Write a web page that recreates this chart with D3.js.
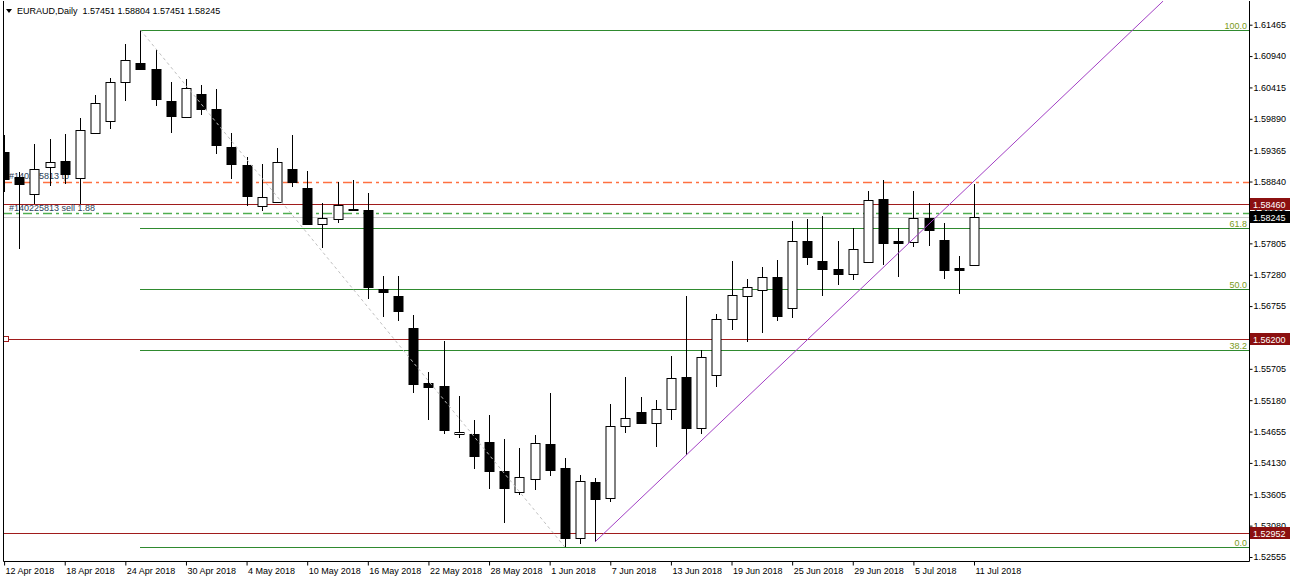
<!DOCTYPE html>
<html>
<head>
<meta charset="utf-8">
<script src="https://cdn.jsdelivr.net/npm/d3@7"></script>
<style>
  body { margin: 0; background: #fff; }
  svg { display: block; font-family: "Liberation Sans", Arial, sans-serif; font-size: 9px; }
</style>
</head>
<body>
<svg id="chart" width="1290" height="580"></svg>
<script>
// daily bars, EURAUD
var dates = [
  "2018-04-12","2018-04-13","2018-04-16","2018-04-17","2018-04-18","2018-04-19","2018-04-20","2018-04-23","2018-04-24","2018-04-25","2018-04-26","2018-04-27","2018-04-30",
  "2018-05-01","2018-05-02","2018-05-03","2018-05-04","2018-05-07","2018-05-08","2018-05-09","2018-05-10","2018-05-11","2018-05-14","2018-05-15","2018-05-16","2018-05-17","2018-05-18","2018-05-21","2018-05-22","2018-05-23","2018-05-24","2018-05-25","2018-05-28","2018-05-29","2018-05-30","2018-05-31",
  "2018-06-01","2018-06-04","2018-06-05","2018-06-06","2018-06-07","2018-06-08","2018-06-11","2018-06-12","2018-06-13","2018-06-14","2018-06-15","2018-06-18","2018-06-19","2018-06-20","2018-06-21","2018-06-22","2018-06-25","2018-06-26","2018-06-27","2018-06-28","2018-06-29",
  "2018-07-02","2018-07-03","2018-07-04","2018-07-05","2018-07-06","2018-07-09","2018-07-10","2018-07-11"
];
var opens = [1.59335,1.58916,1.58637,1.59083,1.59184,1.58899,1.59654,1.59850,1.60504,1.60828,1.60717,1.60190,1.59922,
  1.60303,1.60046,1.59414,1.59124,1.58436,1.58503,1.59056,1.58726,1.58134,1.58211,1.58357,1.58357,1.57044,1.56931,1.56383,1.55460,1.55410,1.54612,1.54612,1.54487,1.53996,1.53649,1.53857,
  1.54444,1.54041,1.52877,1.53806,1.53548,1.54746,1.54986,1.54801,1.55031,1.55573,1.54712,1.55601,1.56540,1.56920,1.57032,1.57238,1.56718,1.57837,1.57518,1.57372,1.57295,
  1.57497,1.58553,1.57837,1.57825,1.58228,1.57854,1.57389,1.57451];
var highs = [1.59615,1.58994,1.59464,1.59548,1.59632,1.59905,1.60286,1.60576,1.61136,1.61376,1.61052,1.60509,1.60554,
  1.60454,1.60387,1.59644,1.59251,1.59140,1.59409,1.59620,1.59011,1.58486,1.58832,1.58872,1.58654,1.57262,1.57262,1.56608,1.55657,1.56165,1.55242,1.54856,1.54935,1.54538,1.54387,1.54595,
  1.55293,1.54219,1.53924,1.53884,1.55115,1.55561,1.55237,1.55182,1.55925,1.56931,1.56026,1.56624,1.57507,1.57200,1.57406,1.57530,1.58178,1.58218,1.58256,1.57837,1.58067,
  1.58681,1.58860,1.58067,1.58681,1.58486,1.58144,1.57585,1.58804];
var lows = [1.58664,1.57715,1.58469,1.58765,1.58805,1.58469,1.59644,1.59716,1.60185,1.60710,1.60101,1.59660,1.59905,
  1.59950,1.59308,1.58889,1.58424,1.58345,1.58491,1.58748,1.58105,1.57731,1.58144,1.58340,1.56876,1.56567,1.56500,1.55293,1.54846,1.54622,1.54555,1.54025,1.53689,1.53129,1.53593,1.53672,
  1.53912,1.52721,1.52767,1.52810,1.53481,1.54638,1.54776,1.54404,1.54846,1.54259,1.54622,1.55405,1.56356,1.56160,1.56311,1.56500,1.56551,1.57446,1.56931,1.57111,1.57195,
  1.57485,1.57446,1.57250,1.57741,1.57758,1.57200,1.56960,1.57451];
var closes = [1.58889,1.58805,1.59056,1.59167,1.58961,1.59699,1.60147,1.60509,1.60873,1.60722,1.60214,1.59945,1.60398,
  1.60056,1.59447,1.59129,1.58592,1.58580,1.59167,1.58832,1.58122,1.58228,1.58446,1.58374,1.57082,1.56987,1.56668,1.55450,1.55393,1.54679,1.54645,1.54248,1.53996,1.53706,1.53900,1.54471,
  1.54008,1.52877,1.53823,1.53526,1.54746,1.54890,1.54796,1.55031,1.55551,1.54712,1.55903,1.56540,1.56943,1.57071,1.57238,1.56584,1.57837,1.57574,1.57379,1.57284,1.57703,
  1.58536,1.57815,1.57815,1.58228,1.58021,1.57362,1.57367,1.58245];

var dateTicks = ["2018-04-12","2018-04-18","2018-04-24","2018-04-30","2018-05-04","2018-05-10","2018-05-16","2018-05-22",
  "2018-05-28","2018-06-01","2018-06-07","2018-06-13","2018-06-19","2018-06-25","2018-06-29","2018-07-05","2018-07-11"];
var priceTicks = [1.61465,1.60940,1.60415,1.59890,1.59365,1.58840,1.58320,1.57805,1.57280,1.56755,1.56230,1.55705,1.55180,1.54655,1.54130,1.53605,1.53080,1.52555];

// objects on the chart
var fibLevels = [100.0, 61.8, 50.0, 38.2, 0.0];
var fibStart = ["2018-04-25", 1.61376];
var fibEnd = ["2018-06-04", 1.52721];
var trendPoints = [["2018-06-06", 1.52810], ["2018-06-14", 1.54259]];
var hLines = [1.58460, 1.56200, 1.52952];
var tpPrice = 1.58840;
var orderPrice = 1.58320;
var bidPrice = 1.58245;
var headerText = "EURAUD,Daily  1.57451 1.58804 1.57451 1.58245";

var svg = d3.select("#chart");
var margin = {left: 3, right: 1249, top: 1, bottom: 561};

var parse = d3.timeParse("%Y-%m-%d");
var fmtDate = d3.timeFormat("%-d %b %Y");

var x = d3.scalePoint().domain(dates).range([4.1, 974]);
var y = d3.scaleLinear().domain([1.52555, 1.61465]).range([557, 24.7]);

svg.append("clipPath").attr("id", "plot")
  .append("rect")
  .attr("x", margin.left).attr("y", margin.top)
  .attr("width", margin.right - margin.left).attr("height", margin.bottom - margin.top);

var g = svg.append("g").attr("clip-path", "url(#plot)");

function py(p) { return Math.round(y(p)) + 0.5; }

// fibo levels
var fibRange = fibStart[1] - fibEnd[1];
var fx0 = Math.round(x(fibStart[0]));
fibLevels.forEach(function(lv) {
  var p = fibEnd[1] + fibRange * lv / 100;
  g.append("line")
    .attr("x1", fx0).attr("x2", margin.right)
    .attr("y1", py(p)).attr("y2", py(p))
    .attr("stroke", "#2f8a2f").attr("stroke-width", 1);
  g.append("text")
    .attr("x", margin.right - 2).attr("y", py(p) - 2)
    .attr("text-anchor", "end")
    .attr("fill", "#7a9a1a")
    .text(lv.toFixed(1));
});

// horizontal lines
hLines.forEach(function(p) {
  g.append("line")
    .attr("x1", margin.left).attr("x2", margin.right)
    .attr("y1", py(p)).attr("y2", py(p))
    .attr("stroke", "#a01c1c").attr("stroke-width", 1);
});
g.append("rect")
  .attr("x", 3.5).attr("y", py(hLines[1]) - 3)
  .attr("width", 5).attr("height", 5)
  .attr("fill", "#fff").attr("stroke", "#a01c1c");

g.append("line")
  .attr("x1", margin.left).attr("x2", margin.right)
  .attr("y1", py(tpPrice)).attr("y2", py(tpPrice))
  .attr("stroke", "#ff7040").attr("stroke-width", 1.3)
  .attr("stroke-dasharray", "9,4,3,4");

g.append("line")
  .attr("x1", margin.left).attr("x2", margin.right)
  .attr("y1", py(orderPrice)).attr("y2", py(orderPrice))
  .attr("stroke", "#4fae4f").attr("stroke-width", 1.3)
  .attr("stroke-dasharray", "9,4,3,4");

g.append("line")
  .attr("x1", margin.left).attr("x2", margin.right)
  .attr("y1", py(bidPrice)).attr("y2", py(bidPrice))
  .attr("stroke", "#c8c8c8").attr("stroke-width", 1);

g.append("text").attr("x", 9).attr("y", py(tpPrice) - 4)
  .attr("fill", "#2c3e5a").text("#140225813 tp");
g.append("text").attr("x", 9).attr("y", py(orderPrice) - 3)
  .attr("fill", "#2c3e5a").text("#140225813 sell 1.88");

// candles
var bars = dates.map(function(d, i) {
  return {date: d, o: opens[i], h: highs[i], l: lows[i], c: closes[i]};
});

var candle = g.selectAll(".candle")
  .data(bars)
  .enter().append("g")
  .attr("class", "candle");

candle.append("line")
  .attr("x1", function(d) { return Math.round(x(d.date)) + 0.5; })
  .attr("x2", function(d) { return Math.round(x(d.date)) + 0.5; })
  .attr("y1", function(d) { return Math.round(y(d.h)); })
  .attr("y2", function(d) { return Math.round(y(d.l)); })
  .attr("stroke", "#000");

candle.append("rect")
  .attr("x", function(d) { return Math.round(x(d.date)) - 4; })
  .attr("y", function(d) { return Math.round(y(Math.max(d.o, d.c))) + 0.5; })
  .attr("width", 9)
  .attr("height", function(d) { return Math.max(0.5, Math.round(y(Math.min(d.o, d.c))) - Math.round(y(Math.max(d.o, d.c)))); })
  .attr("fill", function(d) { return d.c >= d.o ? "#fff" : "#000"; })
  .attr("stroke", "#000");

// fibo diagonal
g.append("line")
  .attr("x1", x(fibStart[0])).attr("y1", y(fibStart[1]))
  .attr("x2", x(fibEnd[0])).attr("y2", y(fibEnd[1]))
  .attr("stroke", "#c0c0c0").attr("stroke-dasharray", "3,3");

// trend line (ray)
var tx0 = x(trendPoints[0][0]), ty0 = y(trendPoints[0][1]);
var tx1 = x(trendPoints[1][0]), ty1 = y(trendPoints[1][1]);
var slope = (ty1 - ty0) / (tx1 - tx0);
var txEnd = tx0 + (margin.top - ty0) / slope;
g.append("line")
  .attr("x1", tx0).attr("y1", ty0)
  .attr("x2", txEnd).attr("y2", margin.top)
  .attr("stroke", "#a23fc4").attr("stroke-width", 1);

// frame
svg.append("path")
  .attr("d", "M" + (margin.left + 0.5) + "," + margin.top + "V" + (margin.bottom + 0.5) + "H" + (margin.right + 0.5) + "V" + margin.top)
  .attr("fill", "none").attr("stroke", "#000");

// axes
var xAxis = svg.append("g")
  .attr("transform", "translate(0," + (margin.bottom + 0.5) + ")")
  .call(d3.axisBottom(x).tickValues(dateTicks).tickSize(4).tickSizeOuter(0)
    .tickFormat(function(d) { return fmtDate(parse(d)); }));
xAxis.select(".domain").remove();
xAxis.selectAll("text")
  .attr("text-anchor", "start").attr("x", 1).attr("y", 6)
  .attr("font-family", "Liberation Sans, Arial, sans-serif").attr("font-size", 9).attr("fill", "#000");

var yAxis = svg.append("g")
  .attr("transform", "translate(" + (margin.right + 0.5) + ",0)")
  .call(d3.axisRight(y).tickValues(priceTicks).tickSize(3).tickSizeOuter(0).tickFormat(d3.format(".5f")));
yAxis.select(".domain").remove();
yAxis.selectAll("text")
  .attr("x", 4)
  .attr("font-family", "Liberation Sans, Arial, sans-serif").attr("font-size", 9).attr("fill", "#000");

// price labels on the scale
var tags = [
  {p: hLines[0], bg: "#8b1010"},
  {p: bidPrice, bg: "#000"},
  {p: hLines[1], bg: "#8b1010"},
  {p: hLines[2], bg: "#8b1010"}
];
tags.forEach(function(t) {
  svg.append("rect")
    .attr("x", margin.right + 1).attr("y", Math.round(y(t.p)) - 6)
    .attr("width", 41).attr("height", 12)
    .attr("fill", t.bg);
  svg.append("text")
    .attr("x", margin.right + 4).attr("y", Math.round(y(t.p)) + 3.5)
    .attr("fill", "#fff")
    .text(d3.format(".5f")(t.p));
});

// header
svg.append("path").attr("d", "M6,9L12,9L9,13Z").attr("fill", "#000");
svg.append("text").attr("x", 17).attr("y", 14).attr("fill", "#000")
  .attr("xml:space", "preserve").style("white-space", "pre")
  .text(headerText);
</script>
</body>
</html>
